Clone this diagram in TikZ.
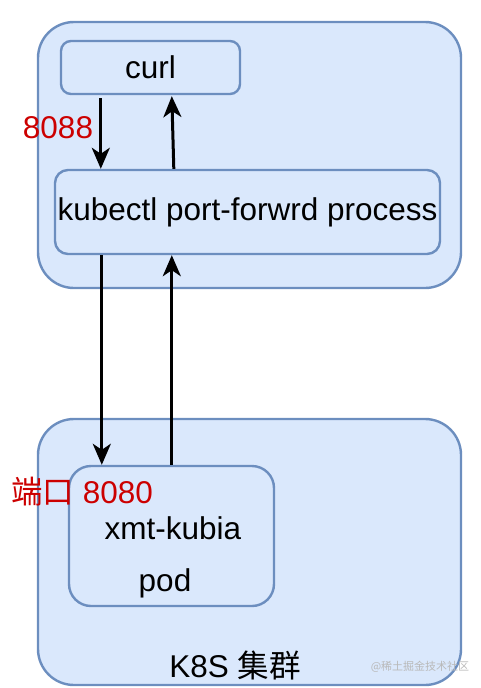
\documentclass[tikz,border=0pt]{standalone}
\usepackage{fontspec}
\setmainfont{Liberation Sans}
\newfontfamily\cjk{Noto Sans CJK SC}
\usetikzlibrary{arrows.meta, positioning}

\definecolor{boxfill}{HTML}{DAE8FC}
\definecolor{boxline}{HTML}{6C8EBF}
\definecolor{portred}{HTML}{CC0000}

\begin{document}
\begin{tikzpicture}[
  x=1pt, y=1pt,
  every node/.style={font=\fontsize{31.5}{38}\selectfont},
  box/.style={draw=boxline, fill=boxfill, line width=2.4pt,
              inner sep=0pt},
  outer/.style={box, rounded corners=36pt, minimum width=423pt, minimum height=266pt},
  inner/.style={box, rounded corners=10pt},
  port/.style={text=portred, inner sep=0pt},
  arr/.style={-{Stealth[length=21pt, width=18pt, inset=6pt]}, line width=3pt}
]
\useasboundingbox (0,0) rectangle (480,-688);

%% ---- HOST (top) ------------------------------------------------
\node[outer] (host) at (249.5, -155) {};
\node[inner, minimum width=179pt, minimum height=53pt] (curl) at (150.5, -67.5) {curl};
\node[inner, rounded corners=13pt, minimum width=385pt, minimum height=84pt]
  (kube) at (247.5, -212) {kubectl port-forwrd process};

\draw[arr] ([xshift=41pt,yshift=-3pt]curl.south west) -- ([xshift=47pt]kube.north west);
\draw[arr] ([xshift=120pt]kube.north west) -- ([xshift=112pt,yshift=-1pt]curl.south west);

\node[port] (lport) at (58, -128) {8088};

%% ---- K8S CLUSTER (bottom) ---------------------------------------
\node[outer] (k8s) at (249.5, -552) {};
\node[inner, rounded corners=22pt, minimum width=205pt, minimum height=140pt]
  (pod) at (171.5, -536) {};
\node (podname) at (173, -528) {xmt-kubia};
\node (podlbl)  at (165, -583) {pod};
\node (k8slbl)  at (235, -665) {K8S {\cjk 集群}};

\node[port] (rport) at (82, -492) {{\cjk 端口} 8080};

\draw[arr] ([xshift=48pt]kube.south west) -- ([xshift=34pt]pod.north west);
\draw[arr] ([xshift=104pt]pod.north west) -- ([xshift=118pt]kube.south west);

\node[font=\cjk\fontsize{11}{13}\selectfont, text=gray!55] (mark) at (420, -667) {@稀土掘金技术社区};

\end{tikzpicture}
\end{document}
